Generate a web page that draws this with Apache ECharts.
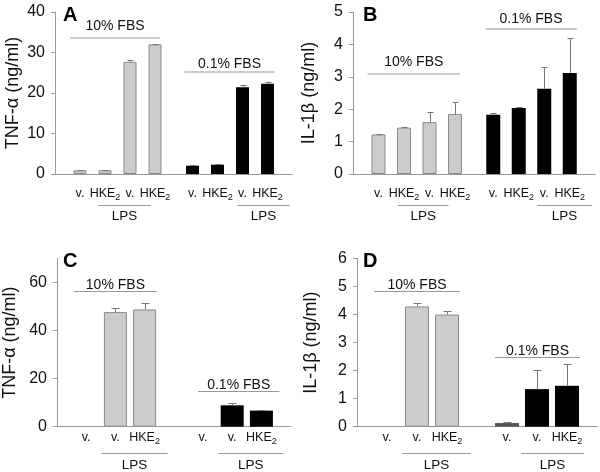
<!DOCTYPE html>
<html><head><meta charset="utf-8">
<script src="https://cdn.jsdelivr.net/npm/echarts@6/dist/echarts.min.js"></script>
<style>html,body{margin:0;padding:0;background:#fff}#c{width:600px;height:472px}</style>
</head><body><div id="c"></div>
<script>
// ---------------- data ----------------
const labelsAB = ['v.', 'HKE2', 'v.', 'HKE2'];
const labelsCD = ['v.', 'v.', 'HKE2'];
const fbsLabels = ['10% FBS', '0.1% FBS'];
const lpsLabel = 'LPS';
const panelLetters = ['A', 'B', 'C', 'D'];
const yNames = ['TNF-\u03b1 (ng/ml)', 'IL-1\u03b2 (ng/ml)', 'TNF-\u03b1 (ng/ml)', 'IL-1\u03b2 (ng/ml)'];

const yTicksA = [0, 10, 20, 30, 40];
const yTicksB = [0, 1, 2, 3, 4, 5];
const yTicksC = [0, 20, 40, 60];
const yTicksD = [0, 1, 2, 3, 4, 5, 6];
const yMax = [40, 5, 70, 6];

// panel A: TNF-alpha
const aGray = [0.9, 0.9, 27.7, 32.0];
const aGrayErr = [0.05, 0.05, 0.5, 0.2];
const aBlack = [2.05, 2.3, 21.4, 22.3];
const aBlackErr = [0.05, 0.05, 0.6, 0.3];
// panel B: IL-1beta
const bGray = [1.22, 1.43, 1.60, 1.85];
const bGrayErr = [0.02, 0.03, 0.31, 0.38];
const bBlack = [1.83, 2.04, 2.63, 3.12];
const bBlackErr = [0.04, 0.04, 0.68, 1.07];
// panel C: TNF-alpha
const cGray = [null, 47.7, 48.8];
const cGrayErr = [null, 1.5, 2.5];
const cBlack = [null, 8.9, 6.7];
const cBlackErr = [null, 0.9, 0.1];
// panel D: IL-1beta
const dGray = [null, 4.29, 4.0];
const dGrayErr = [null, 0.14, 0.14];
const dBlack = [0.13, 1.34, 1.46];
const dBlackErr = [0.04, 0.68, 0.76];

// ---------------- layout ----------------
const FONT = 'Liberation Sans, Arial, Helvetica, sans-serif';
const TXT = '#111';
const AXIS = '#999';
const ERR = '#777';
const GRAY = '#cccccc';

const panels = [
  { left: 55, top: 12, height: 162, step: 12.5, n: 20, slotsG: [2, 4, 6, 8], slotsK: [11, 13, 15, 17],
    labels: labelsAB, gray: aGray, grayErr: aGrayErr, black: aBlack, blackErr: aBlackErr, yTicks: yTicksA,
    barW: 13, cap: 3, nameGap: 33, labelMargin: 12,
    letter: [63, 15.5],
    fbs: [[2, 8, 10, 5, 38, 7.6], [11, 17, 8, 7, 72, 3.4]],
    lps: [[4, 6, 7, 21], [15, 17, 5, 22]], lpsY: 205.5, lpsTextY: 216.5 },
  { left: 353, top: 12, height: 162, step: 12.75, n: 20, slotsG: [2, 4, 6, 8], slotsK: [11, 13, 15, 17],
    labels: labelsAB, gray: bGray, grayErr: bGrayErr, black: bBlack, blackErr: bBlackErr, yTicks: yTicksB,
    barW: 14, cap: 3, nameGap: 35, labelMargin: 12,
    letter: [363, 15.5],
    fbs: [[2, 8, 11, 5, 74, 7], [11, 17, 8, 7, 29, 5]],
    lps: [[4, 6, 6, 19], [15, 17, 7, 22]], lpsY: 205.5, lpsTextY: 216.5 },
  { left: 57, top: 258.5, height: 168.2, step: 14.6, n: 17, slotsG: [2, 4, 6], slotsK: [10, 12, 14],
    labels: labelsCD, gray: cGray, grayErr: cGrayErr, black: cBlack, blackErr: cBlackErr, yTicks: yTicksC,
    barW: 23, cap: 4, nameGap: 38, labelMargin: 3,
    letter: [63, 261.5],
    fbs: [[2, 6, 12, 12, 291.5, 2], [10, 14, 5, 18, 391.5, 2]],
    lps: [[4, 6, 14, 23], [12, 14, 14, 22]], lpsY: 453.5, lpsTextY: 465 },
  { left: 357, top: 258.5, height: 168.2, step: 15, n: 17, slotsG: [2, 4, 6], slotsK: [10, 12, 14],
    labels: labelsCD, gray: dGray, grayErr: dGrayErr, black: dBlack, blackErr: dBlackErr, yTicks: yTicksD,
    barW: 24, cap: 4, nameGap: 37, labelMargin: 3,
    letter: [363, 261.5],
    fbs: [[2, 6, 13, 13, 291.5, 1.5], [10, 14, 12, 13, 357.5, 2]],
    lps: [[4, 6, 15, 24], [12, 14, 16, 17]], lpsY: 453.5, lpsTextY: 465 }
];

function labelRich(s) {
  if (s === 'HKE2') return '{t|HKE}{s|2}';
  return s ? '{t|' + s + '}' : '';
}

const grids = [], xAxes = [], yAxes = [], series = [];
panels.forEach((p, i) => {
  grids.push({ left: p.left, top: p.top, width: p.step * (p.n - 1), height: p.height, outerBoundsMode: 'none' });
  const cats = Array.from({ length: p.n }, (_, k) => 's' + k);
  const labelAt = Array(p.n).fill('');
  const allSlots = p.slotsG.concat(p.slotsK);
  const allLabels = p.labels.concat(p.labels);
  allSlots.forEach((s, k) => { labelAt[s] = allLabels[k]; });
  xAxes.push({
    type: 'category', gridIndex: i, data: cats, boundaryGap: false,
    axisLine: { lineStyle: { color: AXIS, width: 1 } },
    axisTick: { show: false },
    axisLabel: {
      interval: 0, margin: p.labelMargin,
      formatter: (v, idx) => labelRich(labelAt[idx]),
      rich: {
        t: { fontSize: 12.5, fontFamily: FONT, color: TXT, lineHeight: 16 },
        s: { fontSize: 9, fontFamily: FONT, color: TXT, lineHeight: 9, verticalAlign: 'bottom' }
      }
    },
    splitLine: { show: false }
  });
  yAxes.push({
    type: 'value', gridIndex: i, min: 0, max: yMax[i],
    name: yNames[i], nameLocation: 'middle', nameGap: p.nameGap,
    nameTextStyle: { fontSize: 18, fontFamily: FONT, color: TXT },
    axisLine: { show: true, lineStyle: { color: AXIS, width: 1 } },
    axisTick: { show: true, length: 4, lineStyle: { color: AXIS }, customValues: p.yTicks },
    axisLabel: { fontSize: 16, fontFamily: FONT, color: TXT, margin: 10, customValues: p.yTicks },
    splitLine: { show: false }
  });
  const grayData = Array(p.n).fill('-');
  const blackData = Array(p.n).fill('-');
  const errData = [];
  p.slotsG.forEach((s, k) => {
    if (p.gray[k] != null) { grayData[s] = p.gray[k]; errData.push([s, p.gray[k], p.grayErr[k]]); }
  });
  p.slotsK.forEach((s, k) => {
    if (p.black[k] != null) {
      // panel D: untreated 0.1% FBS bar is dark grey
      blackData[s] = (i === 3 && k === 0) ? { value: p.black[k], itemStyle: { color: '#555' } } : p.black[k];
      errData.push([s, p.black[k], p.blackErr[k]]);
    }
  });
  series.push({
    type: 'bar', name: fbsLabels[0], xAxisIndex: i, yAxisIndex: i, data: grayData,
    barWidth: p.barW, barGap: '-100%', silent: true,
    itemStyle: { color: GRAY, borderColor: '#8a8a8a', borderWidth: 1 }
  });
  series.push({
    type: 'bar', name: fbsLabels[1], xAxisIndex: i, yAxisIndex: i, data: blackData,
    barWidth: p.barW, barGap: '-100%', silent: true,
    itemStyle: { color: '#000' }
  });
  const cap = p.cap;
  series.push({
    type: 'custom', xAxisIndex: i, yAxisIndex: i, data: errData, silent: true, z: 5,
    encode: { x: 0, y: 1 },
    renderItem: (params, api) => {
      const x = api.value(0), v = api.value(1), e = api.value(2);
      const p0 = api.coord([x, v]);
      const p1 = api.coord([x, v + e]);
      const cx = Math.round(p0[0]) + 0.5;
      const ty = Math.round(p1[1]) + 0.5;
      return { type: 'group', children: [
        { type: 'line', shape: { x1: cx, y1: p0[1], x2: cx, y2: ty }, style: { stroke: ERR, lineWidth: 1 } },
        { type: 'line', shape: { x1: cx - cap, y1: ty, x2: cx + cap, y2: ty }, style: { stroke: ERR, lineWidth: 1 } }
      ] };
    }
  });
});

const chart = echarts.init(document.getElementById('c'), null, { renderer: 'canvas' });
chart.setOption({
  animation: false,
  backgroundColor: '#fff',
  textStyle: { fontFamily: FONT },
  grid: grids, xAxis: xAxes, yAxis: yAxes, series: series
});

// annotations: panel letters, FBS group lines, LPS lines
const graphic = [];
panels.forEach((p, i) => {
  const px = s => chart.convertToPixel({ xAxisIndex: i }, 's' + s);
  graphic.push({ type: 'text', x: p.letter[0], y: p.letter[1],
    style: { text: panelLetters[i], font: 'bold 20px ' + FONT, fill: '#000', textVerticalAlign: 'middle' } });
  p.fbs.forEach((f, k) => {
    const x1 = px(f[0]) - f[2], x2 = px(f[1]) + f[3], y = f[4];
    graphic.push({ type: 'line', shape: { x1: x1, y1: y, x2: x2, y2: y }, style: { stroke: AXIS, lineWidth: 1 } });
    graphic.push({ type: 'text', x: (x1 + x2) / 2, y: y - f[5] - 4.5,
      style: { text: fbsLabels[k], font: '14px ' + FONT, fill: TXT, textAlign: 'center', textVerticalAlign: 'middle' } });
  });
  p.lps.forEach(l => {
    const x1 = px(l[0]) - l[2], x2 = px(l[1]) + l[3];
    graphic.push({ type: 'line', shape: { x1: x1, y1: p.lpsY, x2: x2, y2: p.lpsY }, style: { stroke: AXIS, lineWidth: 1 } });
    graphic.push({ type: 'text', x: (x1 + x2) / 2, y: p.lpsTextY,
      style: { text: lpsLabel, font: '13.5px ' + FONT, fill: TXT, textAlign: 'center', textVerticalAlign: 'middle' } });
  });
});
chart.setOption({ graphic: graphic });
</script>
</body></html>
